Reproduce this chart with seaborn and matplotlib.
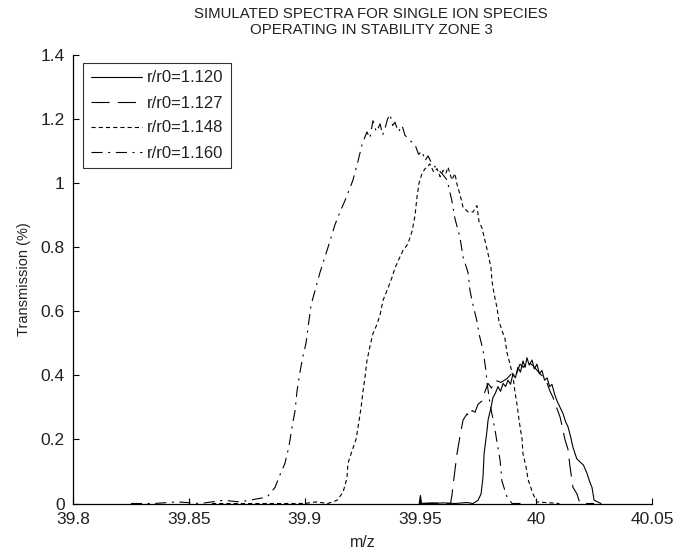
import matplotlib
matplotlib.use("Agg")
import matplotlib.pyplot as plt
import seaborn as sns
import pandas as pd

# ---------------- data ----------------
labels = ["r/r0=1.120", "r/r0=1.127", "r/r0=1.148", "r/r0=1.160"]

mz_120 = [39.950, 39.9495, 39.9500, 39.9505, 39.955, 39.960, 39.965, 39.970, 39.9727, 39.9749, 39.9762,
          39.9770, 39.9775, 39.9788, 39.9792, 39.9805, 39.9813, 39.9824, 39.9835, 39.9846,
          39.9857, 39.9868, 39.9878, 39.9889, 39.9900, 39.9910, 39.9921, 39.9932, 39.9943,
          39.9952, 39.9960, 39.9970, 39.9982, 39.9992, 40.0003, 40.0014, 40.0025, 40.0036,
          40.0047, 40.0058, 40.0068, 40.0080, 40.0090, 40.0103, 40.0116, 40.0127, 40.0137,
          40.0148, 40.0159, 40.0175, 40.0189, 40.0204, 40.0219, 40.0230, 40.0241, 40.0250, 40.028]
t_120 = [0.000, 0.000, 0.025, 0.000, 0.000, 0.002, 0.000, 0.003, 0.000, 0.010, 0.030,
         0.080, 0.155, 0.230, 0.260, 0.300, 0.330, 0.345, 0.365, 0.350,
         0.375, 0.365, 0.385, 0.372, 0.405, 0.392, 0.425, 0.410, 0.445,
         0.425, 0.455, 0.432, 0.448, 0.420, 0.435, 0.405, 0.415, 0.385,
         0.392, 0.365, 0.372, 0.340, 0.320, 0.300, 0.280, 0.255, 0.240,
         0.210, 0.175, 0.140, 0.130, 0.120, 0.095, 0.070, 0.050, 0.010, 0.000]

mz_127 = [39.950, 39.955, 39.960, 39.9630, 39.9636, 39.9645, 39.9658, 39.9671, 39.9684, 39.9701,
          39.9712, 39.9723, 39.9736, 39.9749, 39.9766, 39.9779, 39.9792, 39.9807, 39.9822,
          39.9848, 39.9874, 39.9887, 39.9900, 39.9915, 39.9930, 39.9945, 39.9960, 39.9973,
          39.9986, 40.0001, 40.0016, 40.0031, 40.0047, 40.0060, 40.0073, 40.0088, 40.0103,
          40.0114, 40.0124, 40.0137, 40.0146, 40.0159, 40.0176, 40.0189, 40.025]
t_127 = [0.000, 0.002, 0.000, 0.000, 0.025, 0.080, 0.155, 0.210, 0.260, 0.280,
         0.270, 0.290, 0.285, 0.310, 0.320, 0.350, 0.375, 0.360, 0.385,
         0.378, 0.390, 0.400, 0.415, 0.405, 0.435, 0.425, 0.445, 0.438,
         0.430, 0.418, 0.405, 0.395, 0.375, 0.350, 0.330, 0.300, 0.270,
         0.235, 0.200, 0.170, 0.115, 0.050, 0.030, 0.000, 0.000]

mz_148 = [39.860, 39.870, 39.880, 39.890, 39.900, 39.905, 39.910, 39.9140, 39.9166, 39.9183,
          39.9187, 39.9205, 39.9222, 39.9231, 39.9244, 39.9252, 39.9261, 39.9269, 39.9282,
          39.9295, 39.9313, 39.9326, 39.9339, 39.9356, 39.9377, 39.9390, 39.9412, 39.9425,
          39.9446, 39.9464, 39.9477, 39.9485, 39.9494, 39.9507, 39.9520, 39.9541, 39.9557,
          39.9572, 39.9585, 39.9598, 39.9610, 39.9619, 39.9636, 39.9649, 39.9660, 39.9671,
          39.9684, 39.9706, 39.9727, 39.9744, 39.9753, 39.9766, 39.9779, 39.9792, 39.9805,
          39.9809, 39.9818, 39.9831, 39.9839, 39.9852, 39.9865, 39.9874, 39.9887, 39.9900,
          39.9908, 39.9917, 39.9926, 39.9939, 39.9943, 39.9956, 39.9965, 39.9986, 40.0003,
          40.010]
t_148 = [0.000, 0.000, 0.000, 0.000, 0.000, 0.005, 0.000, 0.010, 0.035, 0.080,
         0.125, 0.165, 0.200, 0.240, 0.300, 0.350, 0.395, 0.445, 0.490,
         0.530, 0.560, 0.590, 0.635, 0.665, 0.705, 0.735, 0.770, 0.790,
         0.810, 0.850, 0.900, 0.955, 1.000, 1.030, 1.045, 1.060, 1.035,
         1.045, 1.020, 1.040, 1.030, 1.050, 1.010, 1.030, 0.990, 0.965,
         0.925, 0.910, 0.910, 0.930, 0.880, 0.860, 0.820, 0.780, 0.735,
         0.695, 0.655, 0.610, 0.570, 0.540, 0.515, 0.470, 0.435, 0.395,
         0.350, 0.310, 0.260, 0.200, 0.155, 0.115, 0.075, 0.030, 0.005,
         0.000]

mz_160 = [39.825, 39.835, 39.845, 39.855, 39.865, 39.872, 39.8838, 39.8872, 39.8894, 39.8915,
          39.8933, 39.8946, 39.8959, 39.8967, 39.8980, 39.8993, 39.9006, 39.9015, 39.9028,
          39.9066, 39.9110, 39.9131, 39.9153, 39.9174, 39.9196, 39.9209, 39.9231, 39.9248,
          39.9269, 39.9282, 39.9295, 39.9310, 39.9326, 39.9337, 39.9347, 39.9358, 39.9369,
          39.9380, 39.9390, 39.9405, 39.9421, 39.9433, 39.9446, 39.9460, 39.9477, 39.9492,
          39.9507, 39.9520, 39.9533, 39.9550, 39.9572, 39.9593, 39.9615, 39.9636, 39.9649,
          39.9671, 39.9684, 39.9706, 39.9714, 39.9727, 39.9744, 39.9753, 39.9770, 39.9783,
          39.9788, 39.9801, 39.9822, 39.9844, 39.9852, 39.9874, 39.9896, 39.995]
t_160 = [0.000, 0.000, 0.005, 0.000, 0.010, 0.005, 0.020, 0.050, 0.090, 0.125,
         0.180, 0.240, 0.290, 0.350, 0.410, 0.460, 0.500, 0.550, 0.620,
         0.720, 0.820, 0.870, 0.910, 0.945, 0.985, 1.010, 1.070, 1.120,
         1.160, 1.140, 1.195, 1.160, 1.185, 1.150, 1.170, 1.200, 1.215,
         1.180, 1.190, 1.160, 1.180, 1.150, 1.140, 1.130, 1.120, 1.090,
         1.100, 1.070, 1.085, 1.060, 1.045, 1.030, 1.010, 0.945, 0.890,
         0.830, 0.770, 0.720, 0.665, 0.620, 0.570, 0.530, 0.480, 0.415,
         0.375, 0.310, 0.230, 0.135, 0.070, 0.020, 0.000, 0.000]

series_x = [mz_120, mz_127, mz_148, mz_160]
series_y = [t_120, t_127, t_148, t_160]

xticks = [39.8, 39.85, 39.9, 39.95, 40.0, 40.05]
xticklabels = ["39.8", "39.85", "39.9", "39.95", "40", "40.05"]
yticks = [0, 0.2, 0.4, 0.6, 0.8, 1.0, 1.2, 1.4]
yticklabels = ["0", "0.2", "0.4", "0.6", "0.8", "1", "1.2", "1.4"]

# ---------------- styling ----------------
sns.set_style("ticks")
plt.rcParams["font.family"] = ["Liberation Sans", "DejaVu Sans"]
plt.rcParams["lines.scale_dashes"] = False
plt.rcParams["xtick.direction"] = "in"
plt.rcParams["ytick.direction"] = "in"

dash_styles = [None, (13, 6), (3, 2.2), (8, 4, 1.5, 4)]

fig = plt.figure(figsize=(6.88, 5.52), dpi=100)
ax = fig.add_axes([73 / 688, 1 - 503.5 / 552, (652 - 73) / 688, (503.5 - 55) / 552])

for xs, ys, lab, dsh in zip(series_x, series_y, labels, dash_styles):
    df = pd.DataFrame({"mz": xs, "T": ys})
    sns.lineplot(data=df, x="mz", y="T", ax=ax, color="black", linewidth=0.8,
                 estimator=None, sort=False, label=lab)
    if dsh is not None:
        ax.lines[-1].set_dashes(dsh)

ax.set_xlim(39.8, 40.05)
ax.set_ylim(0, 1.4)
ax.set_xticks(xticks)
ax.set_xticklabels(xticklabels)
ax.set_yticks(yticks)
ax.set_yticklabels(yticklabels)
ax.tick_params(axis="both", labelsize=12.5, length=4, width=0.8, color="black",
               labelcolor="#222222")
ax.tick_params(axis="x", pad=6)
ax.tick_params(axis="y", pad=6)
for s in ["top", "right"]:
    ax.spines[s].set_visible(False)
for s in ["left", "bottom"]:
    ax.spines[s].set_linewidth(0.9)
    ax.spines[s].set_color("black")

ax.set_xlabel("m/z", fontsize=11.5, color="#222222", labelpad=6)
ax.set_ylabel("Transmission (%)", fontsize=10.5, color="#222222", labelpad=7)
ax.set_title("SIMULATED SPECTRA FOR SINGLE ION SPECIES\nOPERATING IN STABILITY ZONE 3",
             fontsize=10.8, color="#222222", pad=15, linespacing=1.2, x=0.515)

leg = ax.legend(loc="upper left", bbox_to_anchor=(10 / 579, 1 - 8 / 448.5), fontsize=12,
                frameon=True, fancybox=False, handlelength=3.1, handletextpad=0.3,
                labelspacing=0.6, borderpad=0.45, borderaxespad=0.0)
leg.get_frame().set_edgecolor("black")
leg.get_frame().set_linewidth(0.8)
for t in leg.get_texts():
    t.set_color("#222222")

fig.savefig("out.png", dpi=100)
